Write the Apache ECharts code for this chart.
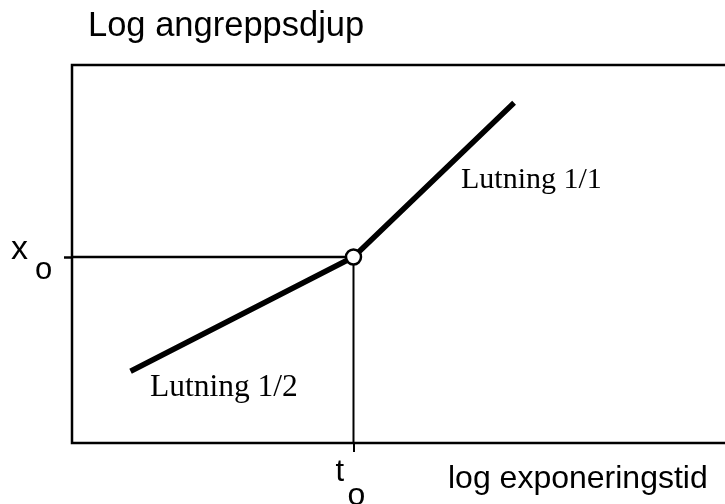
<!DOCTYPE html>
<html>
<head>
<meta charset="utf-8">
<script src="https://cdn.jsdelivr.net/npm/echarts@6/dist/echarts.min.js"></script>
<style>
  html, body { margin: 0; padding: 0; background: #fff; }
  #container { width: 725px; height: 504px; }
</style>
</head>
<body>
<div id="container"></div>
<script>
// schematic, log-log units
var t0 = 7.45;   // log exponeringstid at the break
var x0 = 4.92;   // log angreppsdjup at the break
var curveX = [1.55, t0, 11.7];
var curveY = [1.9, x0, 9.0];
var slopeLabels = ["Lutning 1/2", "Lutning 1/1"];
var axisNames = ["log exponeringstid", "Log angreppsdjup"];

var dom = document.getElementById("container");
var myChart = echarts.init(dom);

var curve = curveX.map(function (v, i) {
  if (i === 1) {
    return {
      value: [v, curveY[i]],
      symbol: "circle",
      symbolSize: 15,
      itemStyle: { color: "#fff", borderColor: "#000", borderWidth: 2.5 },
    };
  }
  return { value: [v, curveY[i]], symbol: "none" };
});

var sans = "'Liberation Sans', Arial, Helvetica, sans-serif";
var serif = "'Liberation Serif', 'Times New Roman', serif";

var option = {
  animation: false,
  grid: {
    left: 72,
    top: 65,
    bottom: 61,
    width: 665, // right edge runs off the picture
    outerBoundsMode: "none",
    show: true,
    borderColor: "#000",
    borderWidth: 2.5,
  },
  xAxis: {
    type: "value",
    min: 0,
    max: 17.6,
    splitLine: { show: false },
    axisLine: { show: false },
    axisLabel: { show: false },
    axisTick: {
      show: true,
      customValues: [t0],
      length: 9,
      lineStyle: { color: "#000", width: 2 },
    },
  },
  yAxis: {
    type: "value",
    min: 0,
    max: 10,
    splitLine: { show: false },
    axisLine: { show: false },
    axisLabel: { show: false },
    axisTick: {
      show: true,
      customValues: [x0],
      length: 8,
      lineStyle: { color: "#000", width: 2.5 },
    },
  },
  series: [
    {
      name: "guideX",
      type: "line",
      silent: true,
      symbol: "none",
      lineStyle: { color: "#000", width: 2.5 },
      data: [[0, x0], [t0, x0]],
    },
    {
      name: "guideT",
      type: "line",
      silent: true,
      symbol: "none",
      lineStyle: { color: "#000", width: 2 },
      data: [[t0, 0], [t0, x0]],
    },
    {
      name: "curve",
      type: "line",
      z: 5,
      lineStyle: { color: "#000", width: 5.5 },
      data: curve,
    },
  ],
};
myChart.setOption(option, true);

// texts placed around the axes
var pBreak = myChart.convertToPixel({ gridIndex: 0 }, [t0, x0]);
var pAxis = myChart.convertToPixel({ gridIndex: 0 }, [0, 0]);

function txt(s, left, top, size, font) {
  return {
    type: "text",
    left: left,
    top: top,
    style: { text: s, fontSize: size, fontFamily: font, fill: "#000" },
  };
}

myChart.setOption({
  graphic: [
    txt(axisNames[1], 88, 9, 34.5, sans),
    txt(axisNames[0], 448, 463, 32, sans),
    txt(slopeLabels[1], 461, 165, 30, serif),
    txt(slopeLabels[0], 150, 372, 31.5, serif),
    txt("x", 11, pBreak[1] - 24, 34, sans),
    txt("o", 35, pBreak[1] - 2, 31, sans),
    txt("t", pBreak[0] - 18, pAxis[1] + 14, 31, sans),
    txt("o", pBreak[0] - 6, pAxis[1] + 37, 32, sans),
  ],
});
</script>
</body>
</html>
